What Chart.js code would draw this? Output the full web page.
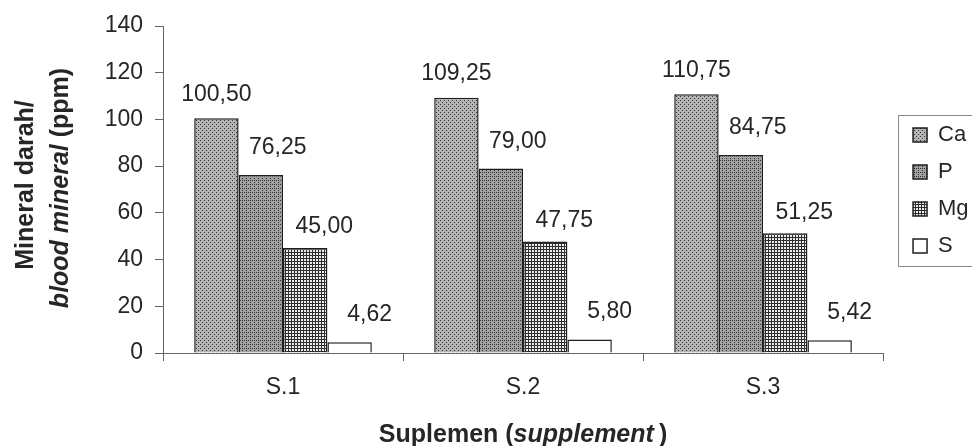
<!DOCTYPE html>
<html>
<head>
<meta charset="utf-8">
<script src="https://cdn.jsdelivr.net/npm/chart.js@4.4.0/dist/chart.umd.min.js"></script>
<style>
html, body { margin: 0; padding: 0; background: #fff; }
</style>
</head>
<body>
<canvas id="Chart" width="972" height="446"></canvas>
<script>
var categories = ["S.1", "S.2", "S.3"];
var seriesNames = ["Ca", "P", "Mg", "S"];
var ca = [100.50, 109.25, 110.75];
var p = [76.25, 79.00, 84.75];
var mg = [45.00, 47.75, 51.25];
var s = [4.62, 5.80, 5.42];
var yTicks = [0, 20, 40, 60, 80, 100, 120, 140];

var FONT = "'Liberation Sans', Arial, sans-serif";
var INK = "#262626";

// small tiles that mimic the printed hatching
function makePattern(size, bg, fg, marks)
{
    let c = document.createElement("canvas");
    c.width = size;
    c.height = size;
    let g = c.getContext("2d");
    g.fillStyle = bg;
    g.fillRect(0, 0, size, size);
    g.fillStyle = fg;
    marks.forEach(m => g.fillRect(m[0], m[1], m[2] || 1, m[3] || 1));
    return g.createPattern(c, "repeat");
}
var patCa = makePattern(4, "#b4b4b4", "#353535", [[0, 0], [2, 2]]);
var patP = makePattern(4, "#a2a2a2", "#303030", [[0, 0], [2, 2], [2, 0]]);
var patMg = makePattern(3, "#ececec", "#2e2e2e", [[0, 0, 3, 1], [0, 0, 1, 3]]);

// value labels sit a bit to the right of most bars, like in the print
var labelShift = [0, 17, 19, 20];
var labelLift = [24, 27, 21, 28];
const valueLabels = {
    id: "valueLabels",
    afterDatasetsDraw(chart)
    {
        const ctx = chart.ctx;
        ctx.save();
        ctx.font = "23px " + FONT;
        ctx.fillStyle = INK;
        ctx.textAlign = "center";
        ctx.textBaseline = "middle";
        chart.data.datasets.forEach((ds, i) => {
            chart.getDatasetMeta(i).data.forEach((bar, j) => {
                let txt = ds.data[j].toFixed(2).replace(".", ",");
                ctx.fillText(txt, bar.x + labelShift[i], bar.y - labelLift[i]);
            });
        });
        ctx.restore();
    }
};

function drawMixed(ctx, parts, x, y)
{
    let total = 0;
    parts.forEach(pt => { ctx.font = pt[1]; total += ctx.measureText(pt[0]).width; });
    let cx = x - total / 2;
    ctx.textAlign = "left";
    parts.forEach(pt => {
        ctx.font = pt[1];
        ctx.fillText(pt[0], cx, y);
        cx += ctx.measureText(pt[0]).width;
    });
}

const axisTitles = {
    id: "axisTitles",
    afterDraw(chart)
    {
        const ctx = chart.ctx;
        const bold = "bold 25px " + FONT;
        const boldIt = "italic bold 25px " + FONT;
        ctx.save();
        ctx.fillStyle = INK;
        ctx.textBaseline = "alphabetic";

        ctx.save();
        ctx.translate(33, 185);
        ctx.rotate(-Math.PI / 2);
        drawMixed(ctx, [["Mineral darah/", bold]], 0, 0);
        ctx.restore();

        ctx.save();
        ctx.translate(68, 188);
        ctx.rotate(-Math.PI / 2);
        drawMixed(ctx, [["blood mineral", boldIt], [" (ppm)", bold]], 0, 0);
        ctx.restore();

        let a = chart.chartArea;
        drawMixed(ctx, [["Suplemen (", bold], ["supplement", boldIt], ["\u2009)", bold]], (a.left + a.right) / 2, 442);
        ctx.restore();
    }
};

const legendFrame = {
    id: "legendFrame",
    afterDraw(chart)
    {
        const hb = chart.legend.legendHitBoxes;
        if (!hb || !hb.length) return;
        const ctx = chart.ctx;
        let left = hb[0].left - 15;
        let top = hb[0].top - 9;
        let last = hb[hb.length - 1];
        let bottom = last.top + last.height + 9;
        ctx.save();
        ctx.strokeStyle = "#888";
        ctx.lineWidth = 1;
        ctx.strokeRect(left + 0.5, top + 0.5, 990 - left, bottom - top);
        ctx.restore();
    }
};

var myChart;
function init_chart()
{
    const ctx = document.getElementById("Chart");
    myChart = new Chart(ctx, {
        type: "bar",
        data: {
            labels: categories,
            datasets: [
                { label: seriesNames[0], data: ca, backgroundColor: patCa, borderColor: "#1e1e1e", borderWidth: 1.5 },
                { label: seriesNames[1], data: p, backgroundColor: patP, borderColor: "#1e1e1e", borderWidth: 1.5 },
                { label: seriesNames[2], data: mg, backgroundColor: patMg, borderColor: "#1e1e1e", borderWidth: 1.5 },
                { label: seriesNames[3], data: s, backgroundColor: "#ffffff", borderColor: "#1e1e1e", borderWidth: 1.5 },
            ],
        },
        options: {
            responsive: false,
            animation: false,
            devicePixelRatio: 1,
            layout: { padding: { top: 26, right: -6.6, bottom: 0, left: 0 } },
            datasets: { bar: { categoryPercentage: 0.74, barPercentage: 1.0 } },
            plugins: {
                tooltip: { enabled: false },
                legend: {
                    position: "right",
                    align: "start",
                    // empty title only pushes the items down to where the print has them
                    title: { display: true, text: " ", font: { size: 10 }, padding: { top: 71, bottom: 0 } },
                    labels: {
                        font: { family: FONT, size: 22 },
                        color: INK,
                        boxWidth: 14,
                        boxHeight: 14,
                        padding: 15
                    }
                }
            },
            scales: {
                x: {
                    grid: { offset: true, drawOnChartArea: false, tickLength: 8, color: "#666" },
                    border: { color: "#666" },
                    ticks: { font: { family: FONT, size: 23 }, color: INK, padding: 13 },
                    afterFit(sc) { sc.height = 93; }
                },
                y: {
                    min: 0,
                    max: 140,
                    grid: { drawOnChartArea: false, tickLength: 8, color: "#666" },
                    border: { color: "#666" },
                    ticks: { font: { family: FONT, size: 23 }, color: INK, padding: 12 },
                    afterBuildTicks(sc) { sc.ticks = yTicks.map(v => ({ value: v })); },
                    afterFit(sc) { sc.width = 163; }
                },
                gap: {
                    position: "right",
                    display: true,
                    grid: { display: false },
                    ticks: { display: false },
                    border: { display: false },
                    afterFit(sc) { sc.width = 15; }
                }
            }
        },
        plugins: [valueLabels, axisTitles, legendFrame]
    });
}
init_chart();
</script>
</body>
</html>
